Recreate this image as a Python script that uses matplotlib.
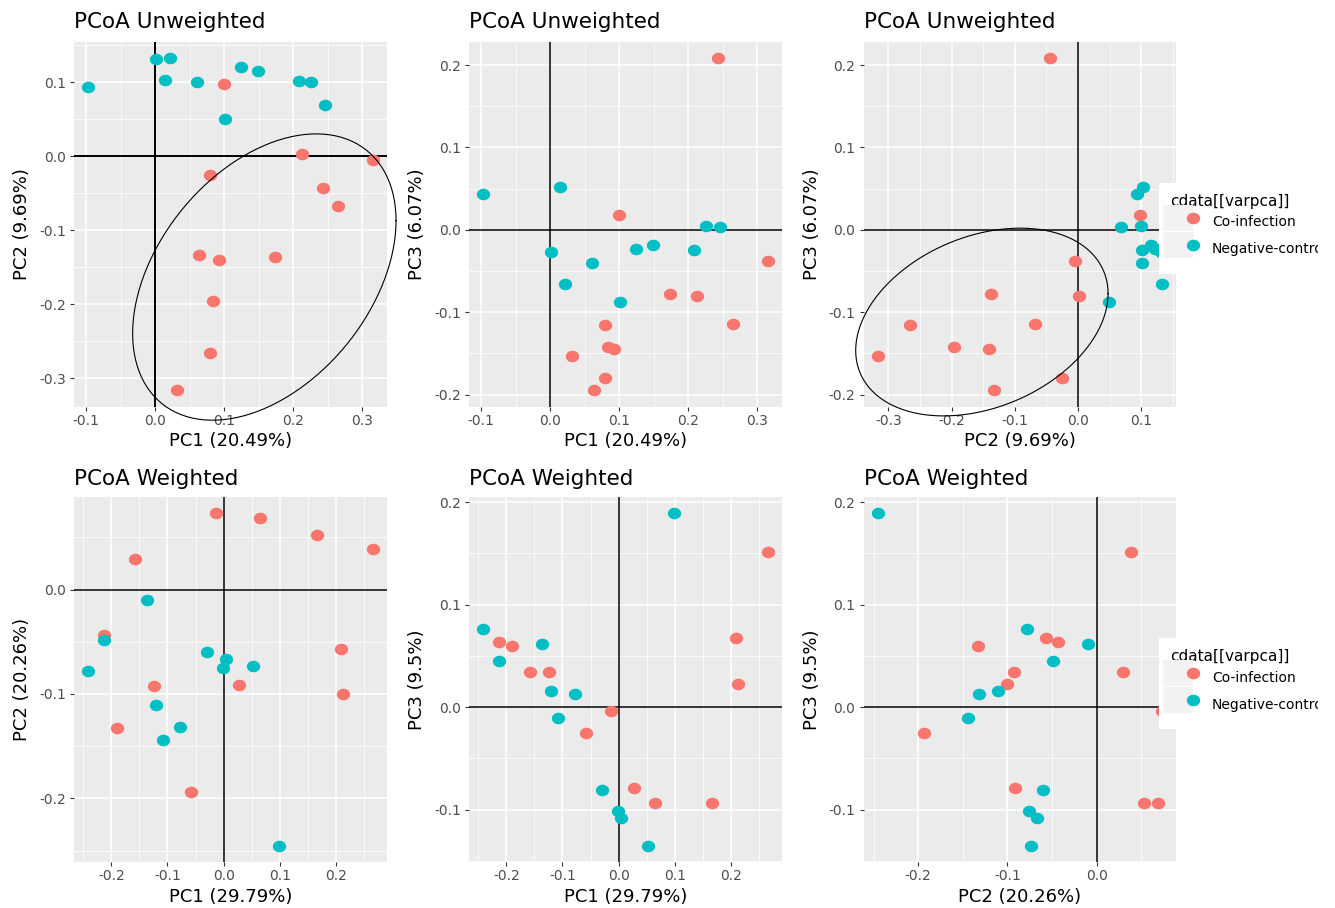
import numpy as np
import matplotlib
matplotlib.use('Agg')
import matplotlib.pyplot as plt
from matplotlib.lines import Line2D
from matplotlib.path import Path
from matplotlib.patches import Rectangle
from matplotlib.legend_handler import HandlerTuple

W, H = 1335, 908

groups = ['Co-infection', 'Negative-control']
colors = ['#F8766D', '#00BFC4']

# Unweighted UniFrac ordination
unw_co_pc1 = [0.243, 0.099, 0.315, 0.173, 0.213, 0.264, 0.080, 0.084, 0.0925, 0.032, 0.080, 0.0635]
unw_co_pc2 = [-0.0437, 0.098, -0.005, -0.137, 0.0023, -0.0676, -0.266, -0.1964, -0.141, -0.3167, -0.0257, -0.1333]
unw_co_pc3 = [0.2085, 0.0178, -0.038, -0.0785, -0.0806, -0.1138, -0.116, -0.142, -0.145, -0.153, -0.180, -0.195]
unw_neg_pc1 = [-0.097, 0.0145, 0.001, 0.0605, 0.0215, 0.1015, 0.1235, 0.1495, 0.2075, 0.2255, 0.2455]
unw_neg_pc2 = [0.0932, 0.103, 0.1306, 0.1005, 0.1324, 0.0495, 0.121, 0.115, 0.101, 0.100, 0.0685]
unw_neg_pc3 = [0.043, 0.052, -0.027, -0.0405, -0.066, -0.0874, -0.023, -0.018, -0.024, 0.0045, 0.0036]

# Weighted UniFrac ordination
w_co_pc1 = [0.2655, 0.209, 0.212, -0.213, -0.189, -0.157, -0.1245, -0.0136, -0.0577, 0.0271, 0.0655, 0.1657]
w_co_pc2 = [0.0389, -0.0568, -0.1002, -0.0431, -0.1324, 0.0297, -0.0925, 0.0730, -0.1936, -0.0912, 0.0686, 0.0526]
w_co_pc3 = [0.1511, 0.0673, 0.0221, 0.0637, 0.0598, 0.0341, 0.0341, -0.0042, -0.0257, -0.0793, -0.0936, -0.0939]
w_neg_pc1 = [0.0985, -0.241, -0.1365, -0.2126, -0.1195, -0.0773, -0.1077, -0.0298, -0.0015, 0.0039, 0.0524]
w_neg_pc2 = [-0.2453, -0.0781, -0.0099, -0.0488, -0.1104, -0.1317, -0.1445, -0.060, -0.0753, -0.0663, -0.073]
w_neg_pc3 = [0.1891, 0.0764, 0.0617, 0.0448, 0.0162, 0.0127, -0.0107, -0.0809, -0.1017, -0.1085, -0.1352]

unw_var = {'PC1': 20.49, 'PC2': 9.69, 'PC3': 6.07}
w_var = {'PC1': 29.79, 'PC2': 20.26, 'PC3': 9.5}

unw = {'PC1': (unw_co_pc1, unw_neg_pc1), 'PC2': (unw_co_pc2, unw_neg_pc2), 'PC3': (unw_co_pc3, unw_neg_pc3)}
wtd = {'PC1': (w_co_pc1, w_neg_pc1), 'PC2': (w_co_pc2, w_neg_pc2), 'PC3': (w_co_pc3, w_neg_pc3)}

# hand-drawn ellipses around the co-infection cluster (data units):
# centre, half extent along x and y, and their correlation
ring_pc1_pc2 = ((0.158, -0.1635), (0.1907, 0.1935), 0.394)
ring_pc2_pc3 = ((-0.152, -0.112), (0.1995, 0.114), 0.303)


def ring(center, half, r, n=120):
    sx, sy = half
    m = np.array([[sx * sx, r * sx * sy], [r * sx * sy, sy * sy]])
    ang = np.linspace(0, 2 * np.pi, n + 1)
    circ = np.column_stack([np.cos(ang), np.sin(ang)])
    pts = np.asarray(center) + circ @ np.linalg.cholesky(m).T
    return pts[:, 0], pts[:, 1]


def expand(*series):
    v = np.concatenate([np.asarray(s) for s in series])
    pad = 0.05 * (v.max() - v.min())
    return v.min() - pad, v.max() + pad


def fmt(v):
    v = round(v, 2)
    return '%.1f' % (0.0 if abs(v) < 1e-9 else v)


# slightly wide dot, like the stretched export
t = np.linspace(0, 2 * np.pi, 60)
dot = Path(np.column_stack([1.15 * np.cos(t), np.sin(t)]))
keybox = Path([(-0.57, -0.5), (0.57, -0.5), (0.57, 0.5), (-0.57, 0.5), (-0.57, -0.5)])

fig = plt.figure(figsize=(W / 100, H / 100), dpi=100)
fig.patch.set_facecolor('white')

cols = [(74, 387), (469, 782), (863.5, 1176)]
rows = [(41.5, 407, 9.4), (496.7, 862.3, 8.6)]

panels = [
    (0, 0, 'PCoA Unweighted', unw, unw_var, 'PC1', 'PC2', ring_pc1_pc2, False, 1.4),
    (0, 1, 'PCoA Unweighted', unw, unw_var, 'PC1', 'PC3', None, False, 1.1),
    (0, 2, 'PCoA Unweighted', unw, unw_var, 'PC2', 'PC3', ring_pc2_pc3, True, 1.1),
    (1, 0, 'PCoA Weighted', wtd, w_var, 'PC1', 'PC2', None, False, 1.1),
    (1, 1, 'PCoA Weighted', wtd, w_var, 'PC1', 'PC3', None, False, 1.1),
    (1, 2, 'PCoA Weighted', wtd, w_var, 'PC2', 'PC3', None, True, 1.1),
]

for r, c, title, data, var, xk, yk, circle, has_legend, cross_lw in panels:
    left, right = cols[c]
    top, bottom, tpad = rows[r]
    ax = fig.add_axes([left / W, 1 - bottom / H, (right - left) / W, (bottom - top) / H])
    ax.set_facecolor('#EBEBEB')
    for s in ax.spines.values():
        s.set_visible(False)

    xlim = expand(*data[xk])
    ylim = expand(*data[yk])
    ax.set_xlim(xlim)
    ax.set_ylim(ylim)
    for axis, lim in ((ax.xaxis, xlim), (ax.yaxis, ylim)):
        grid = np.round(np.arange(np.ceil(lim[0] / 0.05), np.floor(lim[1] / 0.05) + 1) * 0.05, 3)
        major = [g for g in grid if abs(round(g * 10) - g * 10) < 1e-6]
        minor = [g for g in grid if g not in major]
        axis.set_ticks(major)
        axis.set_ticklabels([fmt(g) for g in major])
        axis.set_ticks(minor, minor=True)
    ax.grid(which='major', color='white', lw=1.1)
    ax.grid(which='minor', color='white', lw=0.55)
    ax.set_axisbelow(True)
    ax.tick_params(which='minor', length=0)
    ax.tick_params(which='major', length=2.9, width=0.8, color='#333333',
                   labelcolor='#4D4D4D', labelsize=10)
    ax.tick_params(axis='x', pad=2.0)
    ax.tick_params(axis='y', pad=3.0)

    ax.axhline(0, color='black', lw=cross_lw, zorder=1.5)
    ax.axvline(0, color='black', lw=cross_lw, zorder=1.5)

    for g in range(2):
        ax.scatter(data[xk][g], data[yk][g], s=92, marker=dot, color=colors[g],
                   linewidths=0, zorder=2)

    if circle is not None:
        ex, ey = ring(*circle)
        ax.plot(ex, ey, color='black', lw=0.8, zorder=3, clip_on=False)

    ax.set_title(title, loc='left', fontsize=15.5, pad=tpad, color='black')
    ax.set_xlabel('%s (%s%%)' % (xk, ('%g' % var[xk])), fontsize=13, color='black')
    ax.set_ylabel('%s (%s%%)' % (yk, ('%g' % var[yk])), fontsize=13, color='black')
    ax.xaxis.label.set_va('baseline')
    ax.xaxis.set_label_coords(0.5, -39.5 / (bottom - top))
    ax.yaxis.label.set_va('center')
    ax.yaxis.set_label_coords(-51.5 / (right - left), 0.5)

    if has_legend:
        handles = [
            (Line2D([], [], ls='', marker=keybox, ms=22.1, color='#F2F2F2', mew=0),
             Line2D([], [], ls='', marker=dot, ms=9.6, color=colors[g], mew=0))
            for g in range(2)
        ]
        leg_top = 182.7 if r == 0 else 638
        leg = fig.legend(handles, groups, title='cdata[[varpca]]', loc='upper left',
                         bbox_to_anchor=(1159 / W, 1 - leg_top / H), bbox_transform=fig.transFigure,
                         handler_map={tuple: HandlerTuple(ndivide=None, pad=0)},
                         numpoints=1, fontsize=10, title_fontsize=11, alignment='left',
                         frameon=True, facecolor='white', edgecolor='none', fancybox=False,
                         framealpha=1, borderpad=0.8, handlelength=2.2, handleheight=2.61,
                         labelspacing=0.0, handletextpad=0.8, borderaxespad=0)
        leg.set_zorder(5)

# the exported image stops short of the legend's right edge
fig.patches.append(Rectangle((1318 / W, 0), 1, 1, transform=fig.transFigure,
                             facecolor='white', edgecolor='none', zorder=20))

fig.savefig('out.png', dpi=100, facecolor='white')
